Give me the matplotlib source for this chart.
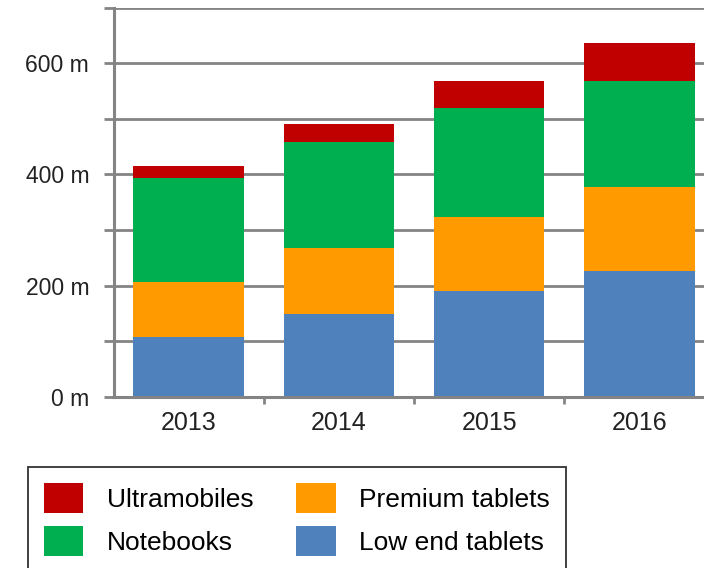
import matplotlib.pyplot as plt
import numpy as np
from matplotlib.ticker import MultipleLocator, FixedLocator, FuncFormatter

plt.rcParams['font.family'] = ['Liberation Sans', 'DejaVu Sans']

years = ['2013', '2014', '2015', '2016']
low_end = [108, 149, 191, 227]
premium = [98, 118, 133, 151]
notebooks = [188, 191, 196, 190]
ultramobiles = [21, 33, 48, 68]

series = [
    ('Low end tablets', low_end, '#4F81BD'),
    ('Premium tablets', premium, '#FF9A00'),
    ('Notebooks', notebooks, '#00B050'),
    ('Ultramobiles', ultramobiles, '#C00000'),
]

grid_col = '#848484'


def ylab(v, pos):
    return f'{int(v)} m' if int(v) % 200 == 0 else ''


fig = plt.figure(figsize=(7.04, 5.68), dpi=100)
ax = fig.add_axes([113.5 / 704, 1 - 396.7 / 568, 601.2 / 704, 389 / 568])

x = np.arange(len(years))
bottom = np.zeros(len(years))
bars = {}
for name, vals, col in series:
    bars[name] = ax.bar(x, vals, 0.735, bottom=bottom, color=col, zorder=3, linewidth=0)
    bottom += np.array(vals)

ax.set_xlim(-0.5, 3.5)
ax.set_ylim(0, 700)

ax.yaxis.set_major_locator(MultipleLocator(100))
ax.yaxis.set_major_formatter(FuncFormatter(ylab))
ax.yaxis.grid(True, color=grid_col, linewidth=2, zorder=0)

ax.set_xticks(x)
ax.set_xticklabels(years)
ax.xaxis.set_minor_locator(FixedLocator([0.5, 1.5, 2.5]))
ax.tick_params(axis='x', which='major', length=0, pad=10, labelsize=18, labelcolor='#222222')
ax.tick_params(axis='x', which='minor', length=5, width=2, color=grid_col, direction='out')
ax.tick_params(axis='y', length=7.5, width=2, color=grid_col, pad=10, labelsize=16.5,
               labelcolor='#222222')

for side in ['top', 'right']:
    ax.spines[side].set_visible(False)
for side in ['left', 'bottom']:
    ax.spines[side].set_color(grid_col)
    ax.spines[side].set_linewidth(2.2)
ax.spines['left'].set_zorder(4)
ax.spines['bottom'].set_zorder(4)

order = ['Ultramobiles', 'Notebooks', 'Premium tablets', 'Low end tablets']
leg = fig.legend([bars[n] for n in order], order, ncol=2, loc='upper left',
                 bbox_to_anchor=(28 / 704, 1 - 466.7 / 568), borderaxespad=0,
                 fontsize=19, handlelength=1.5, handleheight=1.4, handletextpad=0.9,
                 labelspacing=0.48, columnspacing=1.6, borderpad=0.6,
                 fancybox=False, frameon=True)
leg.get_frame().set_edgecolor('black')
leg.get_frame().set_linewidth(1.3)

fig.savefig('out.png', dpi=100)
